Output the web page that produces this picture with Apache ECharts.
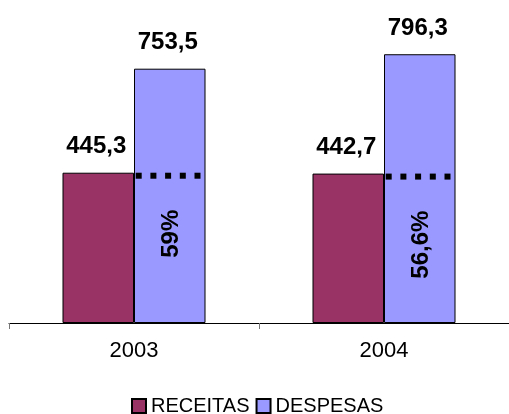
<!DOCTYPE html>
<html>
<head>
<meta charset="utf-8">
<script src="https://cdn.jsdelivr.net/npm/echarts@6/dist/echarts.min.js"></script>
<style>
  html, body { margin: 0; padding: 0; background: #fff; }
  #chart { width: 509px; height: 414px; }
</style>
</head>
<body>
<div id="chart"></div>
<script>
// Receitas x despesas por ano
const years = ['2003', '2004'];
const receitas = [445.3, 442.7];
const despesas = [753.5, 796.3];
const shareLabels = ['59%', '56,6%'];
const valueLabels = {
  receitas: ['445,3', '442,7'],
  despesas: ['753,5', '796,3']
};

const FONT = "'Liberation Sans', Arial, sans-serif";
const BAR_SHARE = 0.286; // each bar's share of the category band

const chart = echarts.init(document.getElementById('chart'), null, { renderer: 'canvas' });

// Dotted marker across each DESPESAS bar at the RECEITAS level, plus the rotated share label
const overlayData = years.map((y, i) => [i, receitas[i], shareLabels[i]]);

function renderOverlay(params, api) {
  const idx = api.value(0);
  const p = api.coord([idx, api.value(1)]);
  const band = api.size([1, 0])[0];
  const barW = band * BAR_SHARE;
  const left = p[0];
  const dots = [];
  for (let k = 0; k < 5; k++) {
    dots.push({
      type: 'rect',
      shape: { x: left + 1.7 + k * 14.7, y: p[1], width: 6, height: 6 },
      style: { fill: '#000' }
    });
  }
  dots.push({
    type: 'text',
    x: left + barW / 2 + 2,
    y: p[1] + 37,
    rotation: Math.PI / 2,
    style: {
      text: shareLabels[idx],
      font: 'bold 24px ' + FONT,
      fill: '#000',
      align: 'right',
      verticalAlign: 'middle'
    }
  });
  return { type: 'group', children: dots };
}

chart.setOption({
  animation: false,
  backgroundColor: '#fff',
  grid: { left: 9, top: 53, width: 504, height: 270, containLabel: false },
  legend: {
    data: ['RECEITAS', 'DESPESAS'],
    left: 131,
    top: 396,
    padding: 0,
    itemWidth: 14,
    itemHeight: 14,
    itemGap: 6,
    icon: 'rect',
    textStyle: { fontFamily: FONT, fontSize: 20, color: '#000' }
  },
  xAxis: {
    type: 'category',
    data: years,
    boundaryGap: true,
    axisLine: { lineStyle: { color: '#000', width: 1 } },
    axisTick: { show: true, length: 6, lineStyle: { color: '#777' } },
    axisLabel: { fontFamily: FONT, fontSize: 22, color: '#000', margin: 17 }
  },
  yAxis: {
    type: 'value',
    min: 0,
    max: 800,
    show: false,
    splitLine: { show: false }
  },
  series: [
    {
      name: 'RECEITAS',
      type: 'bar',
      data: receitas,
      barWidth: (BAR_SHARE * 100) + '%',
      barGap: '0%',
      itemStyle: { color: '#993366', borderColor: '#000', borderWidth: 1 },
      label: {
        show: true,
        position: 'top',
        distance: 14,
        offset: [-2, 0],
        formatter: p => valueLabels.receitas[p.dataIndex],
        fontFamily: FONT, fontSize: 24, fontWeight: 'bold', color: '#000'
      }
    },
    {
      name: 'DESPESAS',
      type: 'bar',
      data: despesas,
      barWidth: (BAR_SHARE * 100) + '%',
      barGap: '0%',
      itemStyle: { color: '#9999FF', borderColor: '#000', borderWidth: 1 },
      label: {
        show: true,
        position: 'top',
        distance: 14,
        offset: [-2, 0],
        formatter: p => valueLabels.despesas[p.dataIndex],
        fontFamily: FONT, fontSize: 24, fontWeight: 'bold', color: '#000'
      }
    },
    {
      type: 'custom',
      renderItem: renderOverlay,
      data: overlayData,
      z: 10,
      silent: true,
      tooltip: { show: false }
    }
  ]
});
</script>
</body>
</html>
